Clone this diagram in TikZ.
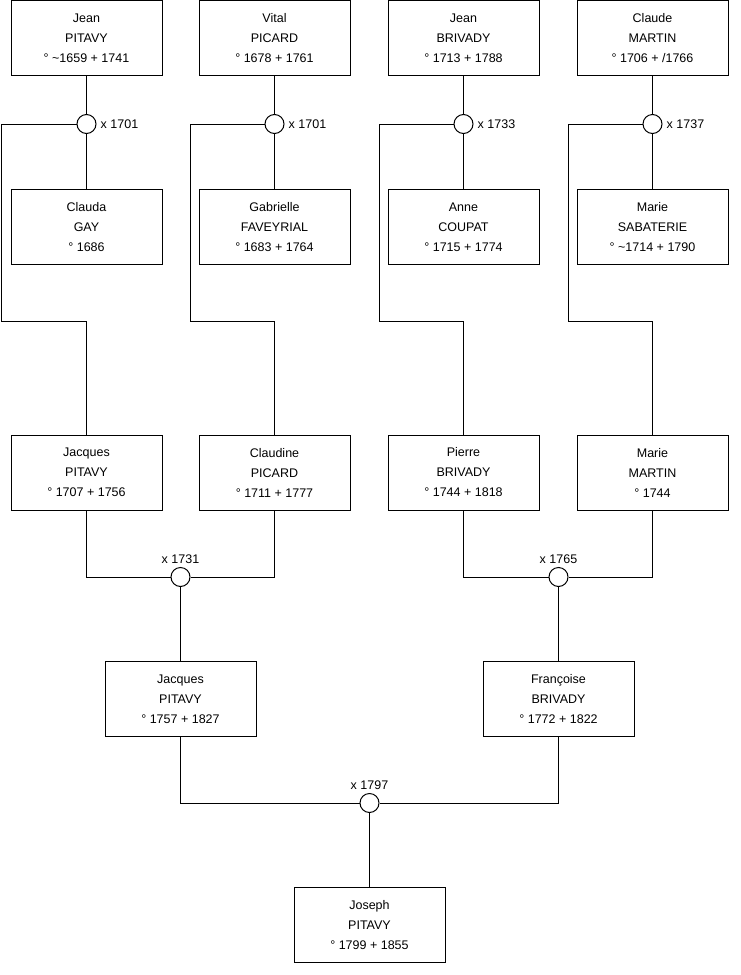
\documentclass[tikz,border=0pt]{standalone}
\usepackage{fontspec}
\setmainfont{Liberation Sans}
\begin{document}
\begin{tikzpicture}[
    x=1pt, y=-1pt,
    every node/.style={font=\fontsize{12.5}{20}\selectfont},
    person/.style={draw, line width=1pt, minimum width=151pt, minimum height=75pt,
                   inner sep=0pt, align=center},
    marr/.style={circle, draw, line width=1pt, fill=white, minimum size=19pt, inner sep=0pt},
    link/.style={line width=1pt},
    ann/.style={inner sep=1pt}
]
    \useasboundingbox (0,0) rectangle (740,975);
    % grand-parents, fathers
    \node[person] (jpi) at (86.5, 38) {Jean\\PITAVY\\° \textasciitilde1659 + 1741};
    \node[person] (vpi) at (274.5,38) {Vital\\PICARD\\° 1678 + 1761};
    \node[person] (jbr) at (463.5,38) {Jean\\BRIVADY\\° 1713 + 1788};
    \node[person] (cma) at (652.5,38) {Claude\\MARTIN\\° 1706 + /1766};
    % grand-parents, mothers
    \node[person] (cga) at (86.5, 227) {Clauda\\GAY\\° 1686};
    \node[person] (gfa) at (274.5,227) {Gabrielle\\FAVEYRIAL\\° 1683 + 1764};
    \node[person] (aco) at (463.5,227) {Anne\\COUPAT\\° 1715 + 1774};
    \node[person] (msa) at (652.5,227) {Marie\\SABATERIE\\° \textasciitilde1714 + 1790};
    % first marriages
    \node[marr] (m1) at (86.5, 124) {};
    \node[marr] (m2) at (274.5,124) {};
    \node[marr] (m3) at (463.5,124) {};
    \node[marr] (m4) at (652.5,124) {};
    \node[ann, anchor=west] at ([xshift=3pt]m1.east) {x 1701};
    \node[ann, anchor=west] at ([xshift=3pt]m2.east) {x 1701};
    \node[ann, anchor=west] at ([xshift=3pt]m3.east) {x 1733};
    \node[ann, anchor=west] at ([xshift=3pt]m4.east) {x 1737};
    % parents
    \node[person] (jap) at (86.5, 472.5) {Jacques\\PITAVY\\° 1707 + 1756};
    \node[person] (cpi) at (274.5,472.5) {Claudine\\PICARD\\° 1711 + 1777};
    \node[person] (pbr) at (463.5,472.5) {Pierre\\BRIVADY\\° 1744 + 1818};
    \node[person] (mma) at (652.5,472.5) {Marie\\MARTIN\\° 1744};
    % turning points
    \coordinate (k1) at (1,  124);  \coordinate (b1) at (1,  321);
    \coordinate (k2) at (190,124);  \coordinate (b2) at (190,321);
    \coordinate (k3) at (379,124);  \coordinate (b3) at (379,321);
    \coordinate (k4) at (568,124);  \coordinate (b4) at (568,321);
    % edges, top generation
    \draw[link] (jpi) -- (m1) -- (cga);
    \draw[link] (vpi) -- (m2) -- (gfa);
    \draw[link] (jbr) -- (m3) -- (aco);
    \draw[link] (cma) -- (m4) -- (msa);
    \draw[link] (m1.west) -- (k1) -- (b1) -| (jap.north);
    \draw[link] (m2.west) -- (k2) -- (b2) -| (cpi.north);
    \draw[link] (m3.west) -- (k3) -- (b3) -| (pbr.north);
    \draw[link] (m4.west) -- (k4) -- (b4) -| (mma.north);
    % second marriages
    \node[marr] (m5) at (180.5,577) {};
    \node[marr] (m6) at (558.5,577) {};
    \node[ann, anchor=south] at ([yshift=2pt]m5.north) {x 1731};
    \node[ann, anchor=south] at ([yshift=2pt]m6.north) {x 1765};
    % children
    \node[person] (jac) at (180.5,699) {Jacques\\PITAVY\\° 1757 + 1827};
    \node[person] (fbr) at (558.5,699) {Françoise\\BRIVADY\\° 1772 + 1822};
    \draw[link] (jap.south) |- (m5.west);
    \draw[link] (cpi.south) |- (m5.east);
    \draw[link] (pbr.south) |- (m6.west);
    \draw[link] (mma.south) |- (m6.east);
    \draw[link] (m5) -- (jac);
    \draw[link] (m6) -- (fbr);
    % last marriage
    \node[marr] (m7) at (369.5,803) {};
    \node[ann, anchor=south] at ([yshift=2pt]m7.north) {x 1797};
    \node[person] (jos) at (369.5,925) {Joseph\\PITAVY\\° 1799 + 1855};
    \draw[link] (jac.south) |- (m7.west);
    \draw[link] (fbr.south) |- (m7.east);
    \draw[link] (m7) -- (jos);
\end{tikzpicture}
\end{document}
